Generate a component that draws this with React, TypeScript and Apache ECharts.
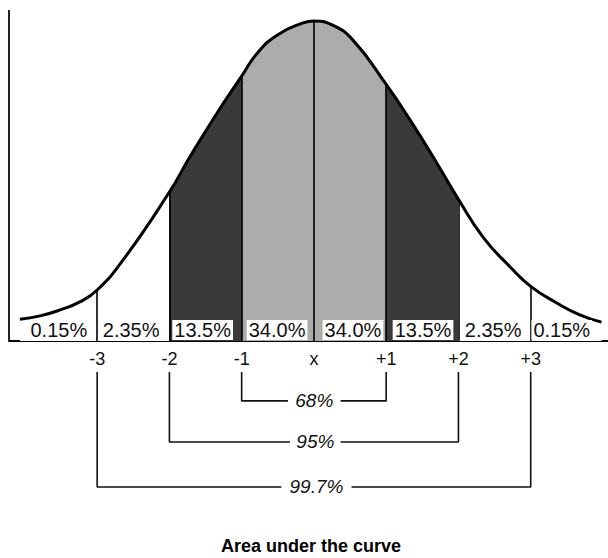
import React, { useEffect, useRef } from "react";
import * as echarts from "echarts";

// Curve: x in standard deviations, y relative height (axis top = 1)
const CURVE_X = [-4.07, -3.79, -3.51, -3.24, -3.0, -2.64, -2.0, -1.72, -1.34, -1.0, -0.79, -0.51, -0.15, 0, 0.25, 0.54, 1.0, 1.33, 1.7, 2.0, 2.34, 2.71, 3.0, 3.36, 3.68, 3.98];
const CURVE_Y = [0.066, 0.076, 0.094, 0.118, 0.154, 0.245, 0.45, 0.555, 0.689, 0.8, 0.868, 0.924, 0.961, 0.967, 0.955, 0.909, 0.775, 0.668, 0.538, 0.428, 0.314, 0.225, 0.165, 0.115, 0.079, 0.057];

const TICKS = [-3, -2, -1, 0, 1, 2, 3];
const TICK_LABELS = ["-3", "-2", "-1", "x", "+1", "+2", "+3"];

const PCT_LABELS = ["0.15%", "2.35%", "13.5%", "34.0%", "34.0%", "13.5%", "2.35%", "0.15%"];
const PCT_X = [-3.53, -2.53, -1.54, -0.51, 0.54, 1.51, 2.48, 3.43];

const BRACKET_LABELS = ["68%", "95%", "99.7%"];
const BRACKET_SPAN = [1, 2, 3];

const FONT = "'Liberation Sans', Arial, Helvetica, sans-serif";

// layout constants
const X_MIN = -4.22;
const X_MAX = 4.07;
const TICK_LABEL_Y = -0.053;
const BRACKET_TOP = -0.094;
const BRACKET_LEVEL = [-0.181, -0.305, -0.441];
const BRACKET_GAP = [
  [-0.36, 0.37],
  [-0.33, 0.37],
  [-0.45, 0.52],
];
const PCT_Y = 0.033;

export default function App() {
  const ref = useRef<HTMLDivElement>(null);

  useEffect(() => {
    if (!ref.current) return;
    const chart = echarts.init(ref.current, null, { renderer: "svg" });
    const curve = CURVE_X.map((x, i) => [x, CURVE_Y[i]]);
    const boundVal = (b: number) => CURVE_Y[CURVE_X.indexOf(b)];

    const bracketSeries: any[] = [];
    BRACKET_SPAN.forEach((s, i) => {
      const lvl = BRACKET_LEVEL[i];
      const [gl, gr] = BRACKET_GAP[i];
      bracketSeries.push({
        type: "line",
        data: [
          [-s, BRACKET_TOP],
          [-s, lvl],
          [gl, lvl],
        ],
        symbol: "none",
        clip: false,
        lineStyle: { color: "#111", width: 1.6 },
        z: 3,
        silent: true,
      });
      bracketSeries.push({
        type: "line",
        data: [
          [gr, lvl],
          [s, lvl],
          [s, BRACKET_TOP],
        ],
        symbol: "none",
        clip: false,
        lineStyle: { color: "#111", width: 1.6 },
        z: 3,
        silent: true,
      });
    });

    const option: any = {
      animation: false,
      title: {
        text: "Area under the curve",
        left: 221,
        top: 537,
        padding: 0,
        textStyle: { fontSize: 18, fontWeight: "bold", color: "#000", fontFamily: FONT },
      },
      grid: { left: 9, right: 0, top: 10, bottom: 51.5, containLabel: false },
      xAxis: {
        type: "value",
        min: X_MIN,
        max: X_MAX,
        axisLine: { onZero: true, lineStyle: { color: "#000", width: 2 } },
        axisTick: { show: false },
        splitLine: { show: false },
        axisLabel: { show: false },
      },
      yAxis: {
        type: "value",
        min: -0.5,
        max: 1,
        axisLine: { show: false },
        axisTick: { show: false },
        axisLabel: { show: false },
        splitLine: { show: false },
      },
      visualMap: {
        show: false,
        type: "piecewise",
        dimension: 0,
        seriesIndex: 0,
        pieces: [
          { min: -2, max: -1, color: "#3a3a3a" },
          { min: -1, max: 1, color: "#acacac" },
          { min: 1, max: 2, color: "#3a3a3a" },
        ],
        outOfRange: { color: "#ffffff" },
      },
      series: [
        {
          type: "line",
          data: curve,
          smooth: true,
          symbol: "none",
          lineStyle: { width: 0, opacity: 0 },
          areaStyle: { opacity: 1 },
          z: 1,
          silent: true,
        },
        {
          type: "line",
          data: curve,
          smooth: true,
          symbol: "none",
          lineStyle: { color: "#000", width: 3 },
          z: 4,
          silent: true,
          markLine: {
            silent: true,
            symbol: "none",
            label: { show: false },
            lineStyle: { color: "#000", width: 1.6, type: "solid" },
            data: TICKS.map((b) => [
              { coord: [b, 0] },
              { coord: [b, boundVal(b)] },
            ]),
          },
        },
        {
          // left vertical axis line
          type: "line",
          data: [
            [X_MIN, 0],
            [X_MIN, 1],
          ],
          symbol: "none",
          clip: false,
          lineStyle: { color: "#222", width: 2 },
          z: 4,
          silent: true,
        },
        ...bracketSeries,
        {
          // percentage labels
          type: "scatter",
          data: PCT_X.map((x) => [x, PCT_Y]),
          symbolSize: 0,
          itemStyle: { opacity: 1 },
          z: 6,
          silent: true,
          label: {
            show: true,
            position: "inside",
            formatter: (p: any) => PCT_LABELS[p.dataIndex],
            fontSize: 20,
            color: "#111",
            opacity: 1,
            fontFamily: FONT,
            backgroundColor: "#ffffff",
            padding: [0, 2, 0, 2],
          },
        },
        {
          // tick labels
          type: "scatter",
          data: TICKS.map((t) => [t, TICK_LABEL_Y]),
          symbolSize: 0,
          itemStyle: { opacity: 1 },
          z: 6,
          clip: false,
          silent: true,
          label: {
            show: true,
            position: "inside",
            formatter: (p: any) => TICK_LABELS[p.dataIndex],
            fontSize: 18,
            color: "#111",
            opacity: 1,
            fontFamily: FONT,
          },
        },
        {
          // bracket labels
          type: "scatter",
          data: BRACKET_LEVEL.map((l, i) => [(BRACKET_GAP[i][0] + BRACKET_GAP[i][1]) / 2, l]),
          symbolSize: 0,
          itemStyle: { opacity: 1 },
          z: 6,
          clip: false,
          silent: true,
          label: {
            show: true,
            position: "inside",
            formatter: (p: any) => BRACKET_LABELS[p.dataIndex],
            fontSize: 19,
            fontStyle: "italic",
            color: "#111",
            opacity: 1,
            fontFamily: FONT,
          },
        },
      ],
    };
    chart.setOption(option);
    return () => chart.dispose();
  }, []);

  return (
    <div
      ref={ref}
      style={{ position: "absolute", left: 0, top: 0, width: 608, height: 558, background: "#fff" }}
    />
  );
}
